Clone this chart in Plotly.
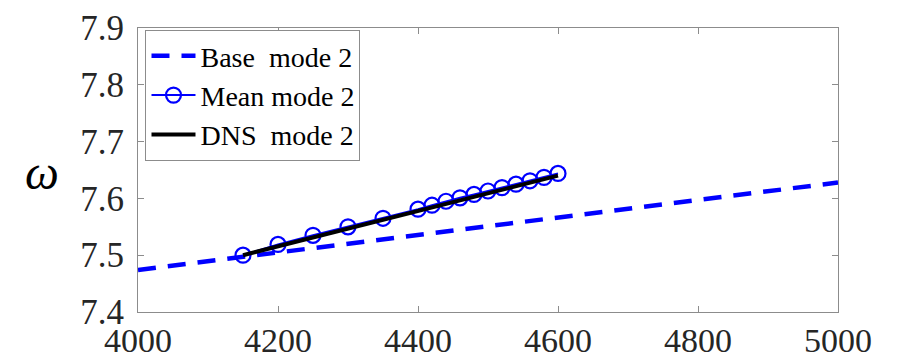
import plotly.graph_objects as go

# Data
base_x = [4000, 4200, 4400, 4600, 4800, 5000]
base_y = [7.474, 7.505, 7.535, 7.566, 7.597, 7.628]

mean_x = [4150, 4200, 4250, 4300, 4350, 4400, 4420, 4440, 4460, 4480, 4500,
          4520, 4540, 4560, 4580, 4600]
mean_y = [7.500, 7.519, 7.535, 7.550, 7.565, 7.581, 7.588, 7.595, 7.601, 7.607,
          7.613, 7.619, 7.625, 7.631, 7.637, 7.644]

dns_x = [4150, 4300, 4450, 4600]
dns_y = [7.500, 7.547, 7.594, 7.640]

x_ticks = [4000, 4200, 4400, 4600, 4800, 5000]
y_ticks = [7.4, 7.5, 7.6, 7.7, 7.8, 7.9]

OFF = 8  # default page body margin
W, H = 897 - OFF, 359 - OFF
L, R, T, B = 137.5 - OFF, 838 - OFF, 28 - OFF, 312 - OFF
SERIF = "Liberation Serif"

fig = go.Figure()
fig.add_trace(go.Scatter(x=base_x, y=base_y, mode="lines", name="Base\u00a0\u00a0mode 2",
                         line=dict(color="#0000ff", width=4.5, dash="18px,12px")))
fig.add_trace(go.Scatter(x=mean_x, y=mean_y, mode="lines+markers", name="Mean mode 2",
                         line=dict(color="#0000ff", width=2),
                         marker=dict(symbol="circle-open", size=15, color="#0000ff",
                                     line=dict(width=2.2, color="#0000ff"))))
fig.add_trace(go.Scatter(x=dns_x, y=dns_y, mode="lines", name="DNS\u00a0\u00a0mode 2",
                         line=dict(color="#000000", width=4)))

axis_common = dict(showline=True, linecolor="#8c8c8c", linewidth=1, mirror="ticks",
                   ticks="inside", ticklen=6, tickcolor="#8c8c8c", showgrid=False,
                   zeroline=False, automargin=False)

fig.update_xaxes(range=[4000, 5000], tickvals=x_ticks,
                 ticktext=[str(v) for v in x_ticks], ticklabelstandoff=-2,
                 tickfont=dict(family=SERIF, size=34, color="#262626"), **axis_common)
fig.update_yaxes(range=[7.4, 7.9], tickvals=y_ticks,
                 ticktext=[f"{v:.1f}" for v in y_ticks], ticklabelstandoff=6,
                 tickfont=dict(family=SERIF, size=35, color="#262626"), **axis_common)

fig.add_annotation(text="ω", xref="paper", yref="paper",
                   x=(41 - OFF - L) / (R - L), y=(B - (172 - OFF)) / (B - T),
                   showarrow=False, xanchor="center", yanchor="middle",
                   font=dict(family=SERIF, size=48, color="#000000", style="italic"))

fig.update_layout(
    width=W, height=H,
    margin=dict(l=L, r=W - R, t=T, b=H - B, pad=0, autoexpand=False),
    plot_bgcolor="white", paper_bgcolor="white",
    showlegend=True,
    legend=dict(x=(145 - OFF - L) / (R - L), y=(B - (30 - OFF)) / (B - T),
                xanchor="left", yanchor="top",
                bgcolor="white", bordercolor="#8c8c8c", borderwidth=1,
                font=dict(family=SERIF, size=28, color="#000000"),
                itemwidth=44, tracegroupgap=0),
)

fig.write_html("out.html")
